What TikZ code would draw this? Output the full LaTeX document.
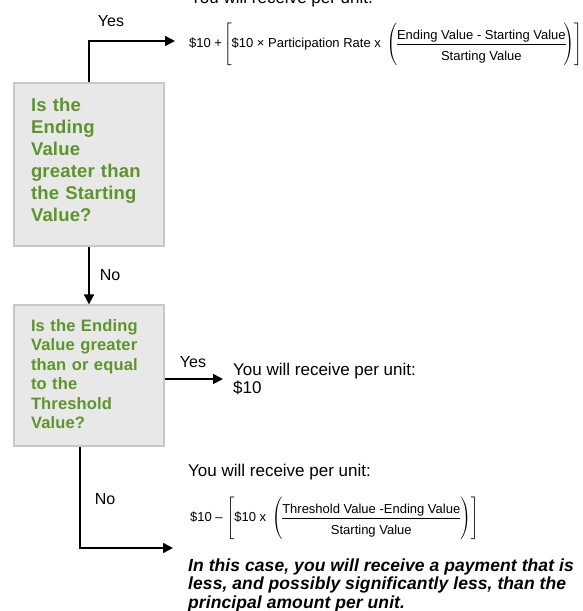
\documentclass[tikz,border=0pt]{standalone}
\usepackage{amsmath}
\usepackage{fontspec}
\setmainfont{Liberation Sans}
\newfontfamily\qfont[LetterSpace=1]{Liberation Sans}
\newfontfamily\notefont[LetterSpace=0.5]{Liberation Sans}
\usetikzlibrary{arrows.meta}
\definecolor{qgreen}{RGB}{92,150,40}
\definecolor{qfill}{RGB}{232,232,232}
\definecolor{qline}{RGB}{200,200,200}
\setlength{\nulldelimiterspace}{0pt}
\newcommand{\bigstrut}{\rule[-20pt]{0pt}{45pt}}
\newcommand{\midstrut}{\rule[-17pt]{0pt}{39pt}}
\newcommand{\denstrut}{\rule{0pt}{14pt}}
\tikzset{
	qbox/.style={draw=qline, line width=1.2pt, fill=qfill, text=qgreen, align=left, text width=116pt, inner xsep=17pt, inner ysep=0pt, minimum width=150pt},
	flow/.style={line width=1.6pt, -{Triangle[length=10pt,width=10pt]}},
	lbl/.style={inner sep=0pt, font=\fontsize{16}{19}\selectfont},
	plain/.style={inner sep=0pt, align=left, font=\fontsize{17}{18}\selectfont},
	formula/.style={inner sep=0pt, font=\fontsize{13}{15}\selectfont}
}

\begin{document}
\begin{tikzpicture}[x=1pt, y=-1pt]
			%%%%% START %%%%%
			\useasboundingbox (0, 0) rectangle (583, 611);
			
			\node[qbox, minimum height=163pt, font=\qfont\bfseries\fontsize{18.5}{22}\selectfont] (box1) at (89, 164.5) {Is the\\Ending\\Value\\greater than\\the Starting\\Value?\vspace{10pt}};
			\node[qbox, minimum height=141pt, font=\qfont\bfseries\fontsize{16.5}{19.5}\selectfont] (box2) at (89, 375.5) {Is the Ending\\Value greater\\than or equal\\to the\\Threshold\\Value?\vspace{3pt}};
			
			\node[plain, anchor=base west] (rec1) at (190, 3) {You will receive per unit:};
			\node[formula, anchor=west] (f1) at (189, 45) {\$10 + $\!\left[\bigstrut\text{\$10 × Participation Rate x }\left(\midstrut\dfrac{\text{Ending Value - Starting Value}}{\text{\denstrut Starting Value}}\!\right)\right]$};
			
			\node[plain, anchor=base west] (rec2) at (233, 393) {You will receive per unit:\\\$10};
			
			\node[plain, anchor=base west] (rec3) at (188, 476) {You will receive per unit:};
			\node[formula, anchor=west] (f2) at (190, 519) {\$10 – $\left[\bigstrut\text{\$10 x }\left(\midstrut\dfrac{\text{Threshold Value -Ending Value}}{\text{\denstrut Starting Value}}\right)\right]$};
			
			\node[inner sep=0pt, align=left, anchor=base west, font=\notefont\bfseries\itshape\fontsize{17.5}{18.5}\selectfont] (note) at (188, 608) {In this case, you will receive a payment that is\\less, and possibly significantly less, than the\\principal amount per unit.};
			
			\coordinate (tip1) at (175, 41);
			\coordinate (tip2) at (223, 379);
			\coordinate (tip3) at (173, 548);
			
			\draw[flow] (box1.north) |- (tip1);
			\node[lbl] (yes1) at (111, 21) {Yes};
			
			\draw[flow] (box1.south) -- (box2.north);
			\node[lbl] (no1) at (110, 275) {No};
			
			\draw[flow] (box2.east |- tip2) -- (tip2);
			\node[lbl] (yes2) at (193, 362) {Yes};
			
			\draw[flow] ([xshift=-9pt]box2.south) |- (tip3);
			\node[lbl] (no2) at (105, 499) {No};
			
			%%%%% END %%%%%
\end{tikzpicture}
\end{document}
